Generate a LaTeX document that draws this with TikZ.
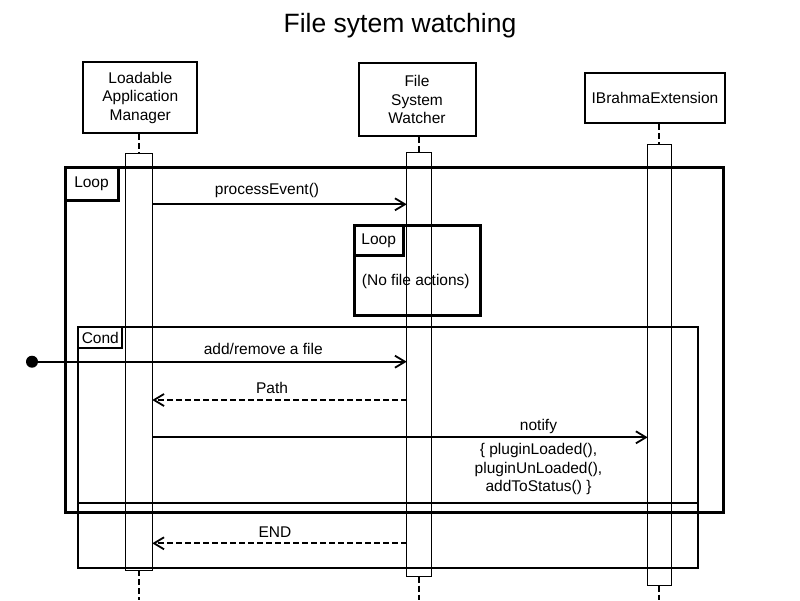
\documentclass[tikz,border=0pt]{standalone}
\usepackage{fontspec}
\setmainfont{Liberation Sans}
\usetikzlibrary{positioning}
\usetikzlibrary{arrows.meta}
\tikzset{
    headnode/.style = {rectangle, line width=2pt, draw=black, align=center, inner sep=0pt, font=\fontsize{15.5}{18.5}\selectfont},
    actcell/.style = {rectangle, line width=0.8pt, draw=black, inner sep=0pt, outer sep=0pt, anchor=north},
    lifeline/.style = {line width=2pt, dash pattern=on 6pt off 3pt},
    framebox/.style = {rectangle, draw=black, inner sep=0pt, outer sep=0pt, anchor=north west},
    framelbl/.style = {rectangle, draw=black, inner sep=0pt, outer sep=0pt, anchor=north west, font=\fontsize{15.5}{18}\selectfont},
    msg/.style = {inner sep=0pt, align=center, font=\fontsize{15.5}{18.3}\selectfont},
    edgen/.style = {-{Straight Barb[length=10pt,width=12pt]}, line width=1.8pt}, % call
    edged/.style = {-{Straight Barb[length=10pt,width=12pt]}, line width=1.8pt, dash pattern=on 6pt off 3pt}, % return
}

\begin{document}
\begin{tikzpicture}[x=1pt, y=-1pt]
  \useasboundingbox (0,0) rectangle (800,600);
  \coordinate (bottom) at (0,600);

  \node[anchor=base, font=\fontsize{26.5}{30}\selectfont] (title) at (400,32) {File sytem watching};

  % heads
  \node[headnode, minimum width=114pt, minimum height=71pt] (lam) at (140.3,97.8) {Loadable\\Application\\Manager};
  \node[headnode, minimum width=117pt, minimum height=72.7pt] (fsw) at (417,99.7) {File\\System\\Watcher};
  \node[headnode, minimum width=140pt, minimum height=50pt] (ibe) at (655,98.3) {IBrahmaExtension};

  % activations
  \node[actcell, minimum width=27pt, minimum height=416.3pt] (lamact) at (138.8,153.7) {};
  \node[actcell, minimum width=24.6pt, minimum height=424pt] (fswact) at (419,152.7) {};
  \node[actcell, minimum width=23.3pt, minimum height=441.4pt] (ibeact) at (659.3,144.3) {};

  \draw[lifeline] (lamact.north |- lam.south) -- (lamact.north);
  \draw[lifeline] (fswact.north |- fsw.south) -- (fswact.north);
  \draw[lifeline] (ibeact.north |- ibe.south) -- (ibeact.north);
  \draw[lifeline] (lamact.south) -- (lamact.south |- bottom);
  \draw[lifeline] (fswact.south) -- (fswact.south |- bottom);
  \draw[lifeline] (ibeact.south) -- (ibeact.south |- bottom);

  % frames
  \node[framebox, line width=3pt, minimum width=658pt, minimum height=345pt] (loop) at (65,167.3) {};
  \node[framelbl, line width=3pt, minimum width=53pt, minimum height=33pt] (looplbl) at (loop.north west) {Loop};
  \node[framebox, line width=3pt, minimum width=126.7pt, minimum height=89.3pt] (inloop) at (354,225.7) {};
  \node[framelbl, line width=3pt, minimum width=49.3pt, minimum height=29.3pt] (inlooplbl) at (inloop.north west) {Loop};
  \node[msg] (nofile) at (415.8,281.7) {(No file actions)};
  \node[framebox, line width=2pt, minimum width=620pt, minimum height=240.4pt] (cond) at (78.3,327.3) {};
  \node[framelbl, line width=2pt, minimum width=44pt, minimum height=21pt] (condlbl) at (cond.north west) {Cond};
  \draw[line width=2pt] (cond.west |- 0,503.3) -- (cond.east |- 0,503.3);

  % messages
  \draw[edgen] (lamact.east |- 0,204.3) -- (fswact.west |- 0,204.3);
  \node[msg] (pelbl) at (267,190) {processEvent()};

  \node[circle, fill=black, minimum size=12pt, inner sep=0pt] (start) at (32,361.7) {};
  \draw[edgen] (start) -- (fswact.west |- start);
  \node[msg] (addlbl) at (263.3,349) {add/remove a file};

  \draw[edged] (fswact.west |- 0,400) -- (lamact.east |- 0,400);
  \node[msg] (pathlbl) at (272,388) {Path};

  \draw[edgen] (lamact.east |- 0,437.3) -- (ibeact.west |- 0,437.3);
  \node[msg] (notlbl) at (538.5,426) {notify};
  \node[msg] (notsub) at (538.5,469) {\{ pluginLoaded(),\\pluginUnLoaded(),\\addToStatus() \}};

  \draw[edged] (fswact.west |- 0,543.3) -- (lamact.east |- 0,543.3);
  \node[msg] (endlbl) at (275,532.3) {END};
\end{tikzpicture}
\end{document}
